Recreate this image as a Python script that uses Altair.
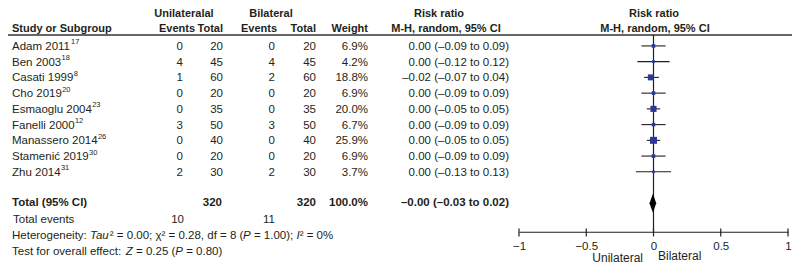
import altair as alt
import pandas as pd

# ---------------- data ----------------
study_names = ["Adam 2011", "Ben 2003", "Casati 1999", "Cho 2019", "Esmaoglu 2004",
               "Fanelli 2000", "Manassero 2014", "Stamenić 2019", "Zhu 2014"]
study_refs = ["17", "18", "8", "20", "23", "12", "26", "30", "31"]
uni_events = [0, 4, 1, 0, 0, 3, 0, 0, 2]
uni_total = [20, 45, 60, 20, 35, 50, 40, 20, 30]
bi_events = [0, 4, 2, 0, 0, 3, 0, 0, 2]
bi_total = [20, 45, 60, 20, 35, 50, 40, 20, 30]
weight = [6.9, 4.2, 18.8, 6.9, 20.0, 6.7, 25.9, 6.9, 3.7]
rr = [0.00, 0.00, -0.02, 0.00, 0.00, 0.00, 0.00, 0.00, 0.00]
rr_lo = [-0.09, -0.12, -0.07, -0.09, -0.05, -0.09, -0.05, -0.09, -0.13]
rr_hi = [0.09, 0.12, 0.04, 0.09, 0.05, 0.09, 0.05, 0.09, 0.13]

total_uni = 320
total_bi = 320
total_weight = 100.0
total_rr = -0.004
total_lo = -0.03
total_hi = 0.02
events_uni = 10
events_bi = 11
# (text, italic) segments
heterogeneity = [("Heterogeneity: ", False), ("Tau", True), ("² = 0.00; χ² = 0.28, df = 8 (", False),
                 ("P", True), (" = 1.00); ", False), ("I", True), ("² = 0%", False)]
overall = [("Test for overall effect: ", False), ("Z", True), (" = 0.25 (", False),
           ("P", True), (" = 0.80)", False)]
axis_ticks = [-1, -0.5, 0, 0.5, 1]

# ---------------- layout helpers ----------------
FONT = "Liberation Sans"
FS = 11.5
HFS = 11
INK = "#231f20"
S = 0.948                      # slight vertical compression to fit the 8px page margin
ZW = "\u200b"                  # keeps leading spaces from being trimmed

# Arial / Liberation Sans advance widths (per 1000 em)
AW = {" ": 278, ZW: 0, "%": 889, "(": 333, ")": 333, ",": 278, "-": 333, ".": 278, ":": 278,
      ";": 278, "=": 584, "²": 333, "χ": 500, "ć": 500, "–": 556}
AW.update({d: 556 for d in "0123456789"})
AW.update(dict(zip("ABCDEFGHIJKLMNOPQRSTUVWXYZ",
                   [667, 667, 722, 722, 667, 611, 778, 722, 278, 500, 667, 556, 833, 722, 778,
                    667, 778, 722, 667, 611, 722, 667, 944, 667, 667, 611])))
AW.update(dict(zip("abcdefghijklmnopqrstuvwxyz",
                   [556, 556, 500, 556, 556, 278, 556, 556, 222, 222, 500, 222, 833, 556, 556,
                    556, 556, 333, 500, 278, 556, 500, 722, 500, 500, 500])))


def tw(s, size=FS):
    return sum(AW.get(c, 556) for c in s) * size / 1000.0


def Y(img):
    return S * (img - 1)


def X(img):
    return img - 8


ROW0, STEP = 42.0, 16.6


def row_of(img):
    return (img - ROW0) / STEP


W = 784
AXIS_IMG = 237
H = Y(AXIS_IMG)
PAD_B = 257 - H


def fmt(v, d=2):
    return f"{v:.{d}f}".replace("-", "–")


yscale = alt.Scale(domain=[0, 13], range=[Y(ROW0), Y(ROW0 + 13 * STEP)], nice=False, zero=False)
xscale = alt.Scale(domain=[-1, 1], range=[X(519), X(788)], nice=False, zero=False)
xaxis = alt.Axis(values=axis_ticks, format="~g", ticks=False, grid=False, domain=True,
                 domainColor=INK, domainWidth=1.2, labelFont=FONT, labelFontSize=FS,
                 labelColor=INK, labelPadding=9, title=None, labelFlush=False)

df = pd.DataFrame({
    "study": study_names, "ref": study_refs,
    "ue": uni_events, "ut": uni_total, "be": bi_events, "bt": bi_total,
    "w": weight, "rr": rr, "lo": rr_lo, "hi": rr_hi,
})
df["row"] = range(len(df))
df["frow"] = df["row"] - 1.0 / STEP
df["wtxt"] = [fmt(v, 1) + "%" for v in weight]
df["citxt"] = [f"{fmt(a)} ({fmt(b)} to {fmt(c)})" for a, b, c in zip(rr, rr_lo, rr_hi)]
df["supx"] = [X(12) + tw(n) + 0.3 for n in study_names]

ydef = alt.Y("row:Q", scale=yscale, axis=None)


def col(field, xpx, align, bold=False, data=df, y=ydef):
    return alt.Chart(data).mark_text(
        align=align, baseline="middle", font=FONT, fontSize=FS,
        fontWeight="bold" if bold else "normal", color=INK
    ).encode(x=alt.value(xpx), y=y, text=f"{field}:N")


one = alt.Data(values=[{}])


def label(text, ximg, yimg, align="left", bold=False, size=FS):
    return alt.Chart(one).mark_text(
        text=text, align=align, baseline="middle", font=FONT, fontSize=size,
        fontWeight="bold" if bold else "normal", color=INK
    ).encode(x=alt.value(X(ximg)), y=alt.value(Y(yimg)))


layers = []

# header
H1, H2 = 7.5, 23
layers += [
    label("Unilateralal", 184, H1, "center", True, HFS),
    label("Bilateral", 271, H1, "center", True, HFS),
    label("Study or Subgroup", 12, H2, "left", True, HFS),
    label("Events", 195, H2, "right", True, HFS),
    label("Total", 223, H2, "right", True, HFS),
    label("Events", 277, H2, "right", True, HFS),
    label("Total", 316, H2, "right", True, HFS),
    label("Weight", 368, H2, "right", True, HFS),
    label("Risk ratio", 439, H1, "center", True, HFS),
    label("M-H, random, 95% CI", 446, H2, "center", True, HFS),
    label("Risk ratio", 654, H1, "center", True, HFS),
    label("M-H, random, 95% CI", 655, H2, "center", True, HFS),
]
layers.append(
    alt.Chart(one).mark_rule(color="#333333", strokeWidth=1.5).encode(
        x=alt.value(0), x2=alt.value(W), y=alt.value(Y(29.5)))
)

# study rows
layers += [
    col("study", X(12), "left"),
    col("ue", X(183), "right"),
    col("ut", X(223), "right"),
    col("be", X(275), "right"),
    col("bt", X(316), "right"),
    col("wtxt", X(368), "right"),
    col("citxt", X(509), "right"),
]
layers.append(
    alt.Chart(df).mark_text(align="left", baseline="middle", font=FONT, fontSize=7.5,
                            color=INK, dy=-4.5).encode(
        x=alt.X("supx:Q", scale=None), y=ydef, text="ref:N")
)

# total row
tot = pd.DataFrame({
    "lab": ["Total (95% CI)"], "ut": [total_uni], "bt": [total_bi],
    "wtxt": [fmt(total_weight, 1) + "%"],
    "citxt": [f"{fmt(total_rr)} ({fmt(total_lo)} to {fmt(total_hi)})"],
})
tot["row"] = row_of(207)
layers += [
    col("lab", X(12), "left", True, tot),
    col("ut", X(222), "right", True, tot),
    col("bt", X(316), "right", True, tot),
    col("wtxt", X(368), "right", True, tot),
    col("citxt", X(509), "right", True, tot),
]

ev = pd.DataFrame({"lab": ["Total events"], "ue": [events_uni], "be": [events_bi]})
ev["row"] = row_of(225)
layers += [
    col("lab", X(13), "left", False, ev),
    col("ue", X(184), "right", False, ev),
    col("be", X(275), "right", False, ev),
]

# footnote lines, italic segments laid out after each other
seg_rows = []
for segs, yimg in ((heterogeneity, 242), (overall, 258)):
    x = X(12)
    for txt, it in segs:
        t = ZW + txt + ZW
        seg_rows.append({"t": t, "it": "italic" if it else "normal", "px": x, "row": row_of(yimg)})
        x += tw(t)
segs_df = pd.DataFrame(seg_rows)
for style in ("normal", "italic"):
    layers.append(
        alt.Chart(segs_df[segs_df["it"] == style]).mark_text(
            align="left", baseline="middle", font=FONT, fontSize=FS, fontStyle=style,
            color=INK).encode(x=alt.X("px:Q", scale=None), y=ydef, text="t:N")
    )

# forest plot
xq = lambda f: alt.X(f"{f}:Q", scale=xscale, axis=xaxis)
zero_df = pd.DataFrame({"x": [0]})
layers.append(
    alt.Chart(zero_df).mark_rule(color=INK, strokeWidth=1.2).encode(
        x=xq("x"), y=alt.value(Y(29.5)), y2=alt.value(Y(AXIS_IMG)))
)
layers.append(
    alt.Chart(df).mark_rule(color=INK, strokeWidth=1.1).encode(
        x=xq("lo"), x2="hi:Q", y=alt.Y("frow:Q", scale=yscale, axis=None))
)
layers.append(
    alt.Chart(df).mark_square(color="#2b3a98", opacity=1).encode(
        x=xq("rr"), y=alt.Y("frow:Q", scale=yscale, axis=None),
        size=alt.Size("w:Q", scale=alt.Scale(domain=[0, 26], range=[0, 49]), legend=None))
)

# summary diamond
tr = row_of(207)
hh = 10.0 / STEP
dia = pd.DataFrame({
    "x": [total_lo, total_rr, total_hi],
    "y": [tr, tr - hh, tr],
    "y2": [tr, tr + hh, tr],
})
layers.append(
    alt.Chart(dia).mark_area(color="black", orient="vertical").encode(
        x=xq("x"), y=alt.Y("y:Q", scale=yscale, axis=None), y2="y2:Q")
)

# axis ticks crossing the axis line
tk = pd.DataFrame({"x": axis_ticks})
tk["y"] = row_of(233.5)
tk["y2"] = row_of(242)
layers.append(
    alt.Chart(tk).mark_rule(color=INK, strokeWidth=1.2).encode(
        x=xq("x"), y=alt.Y("y:Q", scale=yscale, axis=None), y2="y2:Q")
)

layers += [
    label("Unilateral", 643, 264.5, "right", False, 12),
    label("Bilateral", 658, 262.5, "left", False, 12),
]

chart = alt.layer(*layers).properties(
    width=W, height=H,
    padding={"left": 0, "top": 0, "right": 0, "bottom": PAD_B},
    autosize=alt.AutoSizeParams(type="none"),
).configure_view(stroke=None)

chart.save("out.html", embed_options={"renderer": "svg", "actions": False})
